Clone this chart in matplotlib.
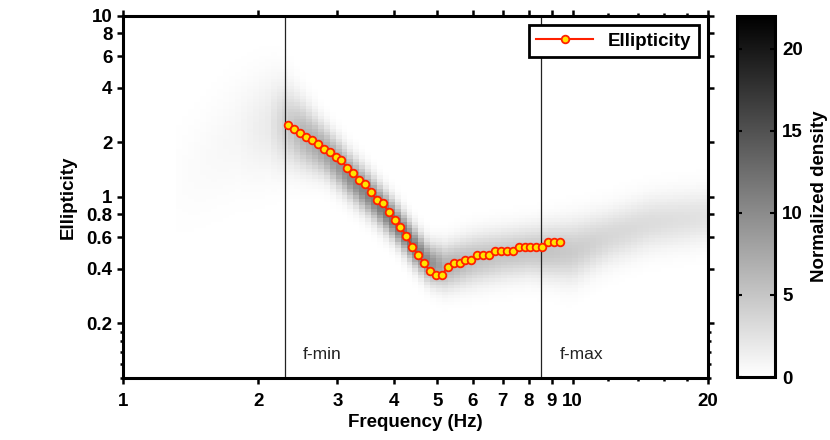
import numpy as np
import matplotlib
matplotlib.use("Agg")
import matplotlib.pyplot as plt
from matplotlib.ticker import FixedLocator, FixedFormatter, NullFormatter

plt.rcParams['font.family'] = ['Liberation Sans', 'DejaVu Sans']
plt.rcParams['font.weight'] = 'bold'
plt.rcParams['axes.labelweight'] = 'bold'

# ellipticity curve
freq = [2.331, 2.403, 2.476, 2.553, 2.632, 2.713, 2.796, 2.882, 2.971, 3.062,
        3.155, 3.252, 3.352, 3.455, 3.561, 3.670, 3.783, 3.899, 4.019, 4.142,
        4.269, 4.400, 4.535, 4.675, 4.818, 4.966, 5.119, 5.276, 5.438, 5.605,
        5.777, 5.955, 6.137, 6.326, 6.520, 6.720, 6.927, 7.140, 7.359, 7.585,
        7.818, 8.058, 8.306, 8.561, 8.824, 9.095, 9.374]
ellip = [2.50, 2.37, 2.25, 2.15, 2.05, 1.95, 1.85, 1.76, 1.67, 1.59,
         1.44, 1.36, 1.24, 1.18, 1.06, 0.96, 0.92, 0.83, 0.75, 0.68,
         0.61, 0.53, 0.48, 0.43, 0.39, 0.37, 0.37, 0.41, 0.43, 0.43,
         0.45, 0.45, 0.48, 0.48, 0.48, 0.505, 0.505, 0.505, 0.505, 0.53,
         0.53, 0.53, 0.53, 0.53, 0.56, 0.56, 0.56]

f_min = 2.29
f_max = 8.51

# density ridge, sampled at a few frequencies (center, log-width, peak)
band_freq = [1.3, 1.8, 2.1, 2.3, 2.5, 2.8, 3.2, 3.6, 4.0, 4.4, 4.8, 5.2,
             6.0, 7.0, 8.0, 9.0, 10.0, 12.0, 15.0, 20.0]
band_center = [1.2, 2.2, 2.5, 2.5, 2.2, 1.8, 1.3, 0.98, 0.74, 0.55, 0.43, 0.41,
               0.45, 0.48, 0.50, 0.50, 0.50, 0.60, 0.72, 0.78]
band_width = [0.2, 0.2, 0.18, 0.15, 0.12, 0.09, 0.08, 0.075, 0.07, 0.07, 0.07, 0.08,
              0.09, 0.09, 0.09, 0.1, 0.11, 0.1, 0.1, 0.1]
band_peak = [0.2, 0.8, 1.8, 4.0, 6.5, 8.0, 10.0, 11.0, 12.0, 12.0, 10.0, 7.0,
             5.5, 5.0, 5.0, 5.0, 4.5, 3.5, 3.0, 2.5]

xe = np.geomspace(1, 20, 100)
ye = np.geomspace(0.1, 10, 110)
xc = np.sqrt(xe[:-1] * xe[1:])
yc = np.sqrt(ye[:-1] * ye[1:])
lf = np.log10(band_freq)
cen = np.interp(np.log10(xc), lf, np.log10(band_center))
wid = np.interp(np.log10(xc), lf, band_width)
pk = np.interp(np.log10(xc), lf, band_peak, left=0)
Z = pk[None, :] * np.exp(-0.5 * ((np.log10(yc)[:, None] - cen[None, :]) / wid[None, :]) ** 2)

fig = plt.figure(figsize=(8.3, 4.4), dpi=100)
ax = fig.add_axes([0.148, 0.141, 0.705, 0.823])
cax = fig.add_axes([0.888, 0.143, 0.046, 0.821])

mesh = ax.pcolormesh(xe, ye, Z, cmap='gray_r', vmin=0, vmax=22, shading='flat')
ax.set_xscale('log')
ax.set_yscale('log')
ax.set_xlim(1, 20)
ax.set_ylim(0.1, 10)

ax.axvline(f_min, color='#222222', lw=0.9)
ax.axvline(f_max, color='#222222', lw=0.9)
ax.text(2.51, 0.134, 'f-min', fontsize=12.5, fontweight='normal', va='center', color='#222222')
ax.text(9.37, 0.134, 'f-max', fontsize=12.5, fontweight='normal', va='center', color='#222222')

ax.plot(freq, ellip, color='#ff2000', lw=1.5, marker='o', ms=5.5,
        mfc='#ffe400', mec='#ff2000', mew=1.3, label='Ellipticity')

xt = [1, 2, 3, 4, 5, 6, 7, 8, 9, 10, 20]
ax.xaxis.set_major_locator(FixedLocator(xt))
ax.xaxis.set_major_formatter(FixedFormatter([str(v) for v in xt]))
ax.xaxis.set_minor_locator(FixedLocator([12, 14, 16, 18]))
ax.xaxis.set_minor_formatter(NullFormatter())
yt = [0.2, 0.4, 0.6, 0.8, 1, 2, 4, 6, 8, 10]
ax.yaxis.set_major_locator(FixedLocator(yt))
ax.yaxis.set_major_formatter(FixedFormatter([str(v) for v in yt]))
ax.yaxis.set_minor_locator(FixedLocator([0.1, 0.12, 0.14, 0.16, 0.18]))
ax.yaxis.set_minor_formatter(NullFormatter())

ax.tick_params(which='both', direction='out', top=True, right=True, width=1.8, labelsize=13.5)
ax.tick_params(which='major', length=4.5)
ax.tick_params(which='minor', length=2.5)
ax.tick_params(axis='x', pad=6)
ax.tick_params(axis='y', pad=3)
for s in ax.spines.values():
    s.set_linewidth(2.2)

ax.set_xlabel('Frequency (Hz)', fontsize=13.5, labelpad=3)
ax.set_ylabel('Ellipticity', fontsize=13.5, labelpad=7)

leg = ax.legend(loc='upper right', fontsize=13.5, fancybox=False, handlelength=3.0,
                borderaxespad=0.5, framealpha=1)
leg.get_frame().set_edgecolor('black')
leg.get_frame().set_linewidth(2)

cb = fig.colorbar(mesh, cax=cax, ticks=[0, 5, 10, 15, 20])
cb.outline.set_linewidth(2.2)
cax.tick_params(direction='in', left=True, right=True, length=3.5, width=1.5, labelsize=13.5, pad=5)
cb.set_label('Normalized density', fontsize=13.5, labelpad=6)

fig.savefig('out.png', dpi=100)
